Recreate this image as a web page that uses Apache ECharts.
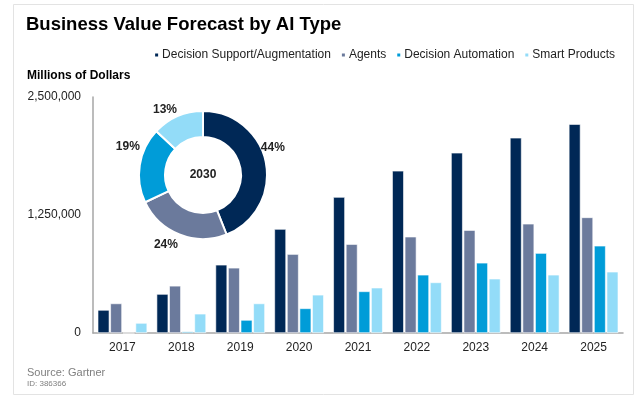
<!DOCTYPE html>
<html>
<head>
<meta charset="utf-8">
<script src="https://cdn.jsdelivr.net/npm/echarts@6/dist/echarts.min.js"></script>
<style>
html,body{margin:0;padding:0;background:#fff;}
#chart{width:640px;height:403px;}
</style>
</head>
<body>
<div id="chart"></div>
<script>
const categories = ['2017','2018','2019','2020','2021','2022','2023','2024','2025'];
const seriesNames = ['Decision Support/Augmentation','Agents','Decision Automation','Smart Products'];
const decisionSupport = [244000, 413000, 723000, 1101000, 1440000, 1718000, 1909000, 2068000, 2213000];
const agents = [313000, 500000, 691000, 836000, 942000, 1020000, 1090000, 1157000, 1225000];
const decisionAutomation = [0, 15000, 138000, 261000, 441000, 617000, 744000, 847000, 924000];
const smartProducts = [106000, 204000, 313000, 405000, 480000, 536000, 575000, 617000, 649000];
const share2030 = [44, 24, 19, 13];
const pieCenterLabel = '2030';
const yTicks = [0, 1250000, 2500000];

const colors = ['#002856', '#6b7a9c', '#009cd8', '#93dcf8'];
const font = '"Liberation Sans", Arial, sans-serif';

const chart = echarts.init(document.getElementById('chart'));
const barData = [decisionSupport, agents, decisionAutomation, smartProducts];

const labelNudge = [[-14, -15], [5, 6], [9, -18], [6, -3]];

const option = {
  animation: false,
  textStyle: {fontFamily: font},
  color: colors,
  title: [
    {text: 'Business Value Forecast by AI Type', left: 21, top: 10,
     textStyle: {fontFamily: font, fontSize: 18.5, fontWeight: 'bold', color: '#000'}},
    {text: 'Millions of Dollars', left: 22, top: 65,
     textStyle: {fontFamily: font, fontSize: 12, fontWeight: 'bold', color: '#000'}},
    {text: 'Source: Gartner', left: 22, top: 362,
     textStyle: {fontFamily: font, fontSize: 11, fontWeight: 'normal', color: '#7f7f7f'}},
    {text: 'ID: 386366', left: 22, top: 375,
     textStyle: {fontFamily: font, fontSize: 8, fontWeight: 'normal', color: '#7f7f7f'}}
  ],
  graphic: [{
    type: 'rect', shape: {x: 13.5, y: 4.5, width: 620, height: 390},
    style: {fill: 'none', stroke: '#e3e3e3', lineWidth: 1}, silent: true
  }],
  legend: {
    data: seriesNames, right: 20, top: 44, icon: 'rect', itemWidth: 5, itemHeight: 5, itemGap: 9,
    textStyle: {fontFamily: font, fontSize: 12, color: '#222', padding: [0, 0, 0, -2]}
  },
  grid: {left: 93, right: 17, top: 97, bottom: 70, containLabel: false},
  xAxis: {
    type: 'category', data: categories,
    axisLine: {lineStyle: {color: '#a6a6a6', width: 1.5}},
    axisTick: {show: false},
    axisLabel: {fontFamily: font, fontSize: 12, color: '#222', margin: 9}
  },
  yAxis: {
    type: 'value', min: 0, max: yTicks[yTicks.length - 1], interval: yTicks[1] - yTicks[0],
    axisLine: {show: true, lineStyle: {color: '#a6a6a6', width: 1.5}},
    axisTick: {show: false},
    splitLine: {show: false},
    axisLabel: {fontFamily: font, fontSize: 12, color: '#222', margin: 12,
      formatter: v => v.toLocaleString('en-US')}
  },
  series: seriesNames.map((n, i) => ({
    name: n, type: 'bar', data: barData[i],
    barGap: '8%', barCategoryGap: '16%',
    itemStyle: {color: colors[i], borderColor: '#fff', borderWidth: 0.6},
    z: 2
  })).concat([{
    type: 'pie', center: [203, 175], radius: [38, 64], startAngle: 90, clockwise: true,
    z: 5,
    itemStyle: {borderColor: '#fff', borderWidth: 2},
    label: {show: true, position: 'outside', formatter: '{c}%', fontFamily: font,
      fontSize: 12, fontWeight: 'bold', color: '#222'},
    labelLine: {show: false, length: 4, length2: 0},
    labelLayout: p => ({dx: labelNudge[p.dataIndex][0], dy: labelNudge[p.dataIndex][1]}),
    data: share2030.map((v, i) => ({value: v, name: seriesNames[i], itemStyle: {color: colors[i]}})),
    legendHoverLink: false
  }, {
    type: 'pie', center: [203, 175], radius: [0, 0], silent: true, z: 6,
    label: {show: true, position: 'center', formatter: pieCenterLabel, fontFamily: font,
      fontSize: 12, fontWeight: 'bold', color: '#222'},
    labelLine: {show: false},
    data: [{value: 1, name: pieCenterLabel}]
  }])
};
chart.setOption(option);
</script>
</body>
</html>
